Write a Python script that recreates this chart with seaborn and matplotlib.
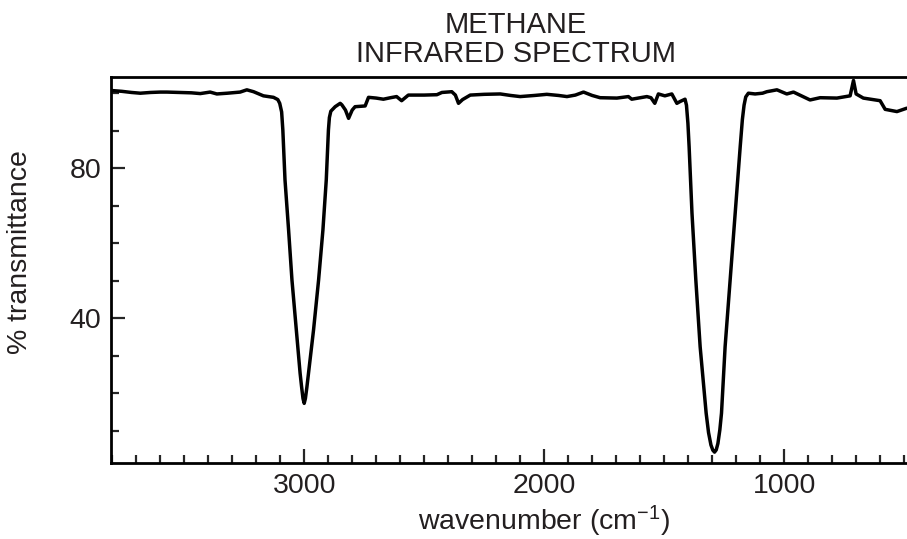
import pandas as pd
import matplotlib.pyplot as plt
import seaborn as sns

# spectrum
wavenumber = [
    3800, 3760, 3720, 3683, 3640, 3600, 3572, 3520, 3470, 3433, 3392, 3364,
    3320, 3267, 3239, 3211, 3170, 3128, 3110, 3102, 3094, 3089, 3080, 3065,
    3051, 3033, 3017, 3011, 3005, 3000, 2995, 2989, 2982, 2961, 2940,
    2922, 2908, 2899, 2895, 2889, 2871, 2850, 2843, 2828, 2815, 2800, 2788,
    2746, 2732, 2700, 2670, 2640, 2615, 2594, 2566, 2500, 2447, 2426, 2385,
    2370, 2357, 2340, 2308, 2250, 2183, 2140, 2100, 2040, 1989, 1940, 1905,
    1870, 1836, 1800, 1767, 1697, 1649, 1635, 1600, 1572, 1555, 1539, 1524,
    1497, 1468, 1447, 1433, 1413, 1407, 1401, 1396, 1384, 1368, 1350, 1325,
    1315, 1305, 1297, 1290, 1283, 1276, 1268, 1261, 1246, 1225, 1204, 1183,
    1174, 1167, 1160, 1149, 1121, 1090, 1072, 1030, 989, 961, 925, 892,
    850, 780, 725, 711, 700, 670, 600, 579, 530, 489,
]
transmittance = [
    100.7, 100.5, 100.2, 100.0, 100.2, 100.3, 100.3, 100.2, 100.1, 99.9, 100.3, 99.8,
    100.0, 100.3, 100.9, 100.4, 99.3, 98.9, 98.3, 97.3, 95.0, 90.2, 76.9, 63.5,
    50.2, 36.9, 25.3, 21.8, 18.6, 17.3, 18.6, 21.5, 25.3, 36.9, 50.2,
    63.5, 76.9, 90.2, 93.5, 95.2, 96.4, 97.3, 96.9, 95.5, 93.3, 95.5, 96.4,
    96.6, 98.9, 98.7, 98.4, 98.8, 99.1, 98.0, 99.5, 99.5, 99.6, 100.2, 100.4,
    99.5, 97.3, 98.3, 99.5, 99.7, 99.8, 99.4, 99.1, 99.4, 99.7, 99.4, 99.1,
    99.5, 100.3, 99.4, 98.8, 98.7, 99.1, 98.4, 98.8, 99.1, 98.8, 97.3, 99.8,
    99.3, 99.8, 97.3, 97.8, 98.4, 96.8, 92.0, 85.8, 68.0, 50.2, 32.4, 14.7,
    9.5, 6.2, 4.8, 4.3, 4.9, 6.6, 10.2, 14.7, 32.4, 50.2, 68.0, 85.8,
    93.0, 96.8, 99.0, 100.0, 99.8, 100.0, 100.4, 100.9, 99.8, 100.3, 99.2, 98.2,
    98.8, 98.7, 99.3, 103.4, 99.8, 98.7, 98.0, 95.7, 95.1, 96.0,
]

x_major = [3000, 2000, 1000]
y_major = [40, 80]

df = pd.DataFrame({"wavenumber": wavenumber, "transmittance": transmittance})

sns.set_style("ticks")
plt.rcParams["font.family"] = ["Liberation Sans", "DejaVu Sans"]
plt.rcParams["mathtext.default"] = "regular"

text_col = "#231f20"

fig = plt.figure(figsize=(9.07, 5.39), dpi=100)
ax = fig.add_axes([0.1224, 0.141, 0.8776, 0.716])

sns.lineplot(data=df, x="wavenumber", y="transmittance", color="black",
             linewidth=2.5, ax=ax)

ax.set_xlim(3805, 488)
ax.set_ylim(1.4, 104.3)

ax.set_xticks(x_major)
ax.set_xticks(range(3800, 400, -100), minor=True)
ax.set_yticks(y_major)
ax.set_yticks(range(10, 101, 10), minor=True)

ax.tick_params(which="major", direction="in", length=10, width=1.6,
               labelsize=20.5, labelcolor=text_col, pad=7)
ax.tick_params(which="minor", direction="in", length=5.5, width=1.6)
ax.tick_params(axis="y", right=False)
ax.tick_params(axis="x", top=False)

for side in ["left", "bottom", "top"]:
    ax.spines[side].set_linewidth(2)
    ax.spines[side].set_color("black")
ax.spines["right"].set_visible(False)

ax.set_xlabel("wavenumber (cm$^{-1}$)", fontsize=20.5, color=text_col)
ax.set_ylabel("% transmittance", fontsize=20.5, color=text_col)
ax.xaxis.set_label_coords(0.544, -0.105)
ax.yaxis.set_label_coords(-0.098, 0.547)

ax.set_title("METHANE\nINFRARED SPECTRUM", fontsize=21, color=text_col,
             pad=11, linespacing=1.05, x=0.509)

fig.savefig("out.png", dpi=100)
